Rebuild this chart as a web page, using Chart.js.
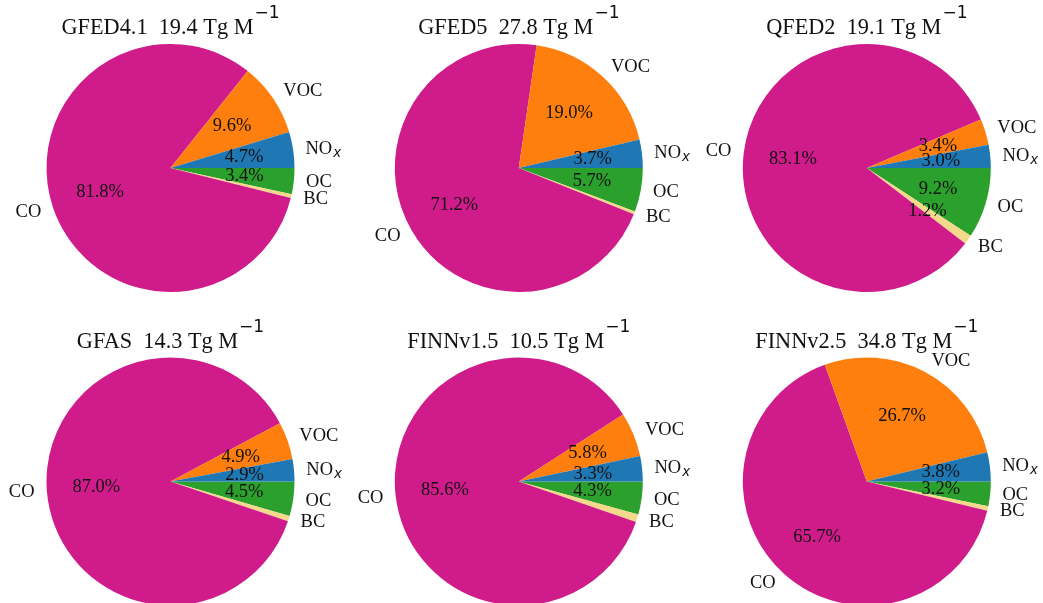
<!DOCTYPE html>
<html>
<head>
<meta charset="utf-8">
<script src="https://cdn.jsdelivr.net/npm/chart.js@4.4.0/dist/chart.umd.min.js"></script>
<style>
  html, body { margin: 0; padding: 0; background: #ffffff; }
  #wrap { position: relative; width: 1043px; height: 603px; overflow: hidden; }
  #wrap canvas { position: absolute; left: 0; top: 0; }
</style>
</head>
<body>
<div id="wrap"></div>
<script>
// Emission factor composition per fire inventory (share of total, %)
const species = ['CO', 'VOC', 'NOx', 'OC', 'BC'];
const inventories = ['GFED4.1', 'GFED5', 'QFED2', 'GFAS', 'FINNv1.5', 'FINNv2.5'];
const totals = [19.4, 27.8, 19.1, 14.3, 10.5, 34.8]; // Tg M^-1

// values ordered as `species`
const gfed41 = [81.8, 9.6, 4.7, 3.4, 0.5];
const gfed5  = [71.2, 19.0, 3.7, 5.7, 0.4];
const qfed2  = [83.1, 3.4, 3.0, 9.2, 1.2];
const gfas   = [87.0, 4.9, 2.9, 4.5, 0.7];
const finn15 = [85.6, 5.8, 3.3, 4.3, 1.0];
const finn25 = [65.7, 26.7, 3.8, 3.2, 0.6];
const shares = [gfed41, gfed5, qfed2, gfas, finn15, finn25];

const colors = { CO: '#d01c8b', VOC: '#ff7f0e', NOx: '#1f77b4', OC: '#2ca02c', BC: '#f5d98b' };

// wedges run clockwise from 3 o'clock
const wedgeOrder = ['OC', 'BC', 'CO', 'VOC', 'NOx'];

const W = 1043, H = 603;
const R = 124;
const centers = [
  [170.5, 168], [518.8, 168], [866.8, 168],
  [170.5, 481.5], [518.8, 481.5], [866.8, 481.5]
];

const SERIF = '"Liberation Serif", "Times New Roman", serif';
const LABEL_PX = 18.5;
const TITLE_PX = 22.3;
const SUP_PX = 17;

function drawNOx(ctx, x, y, align) {
  const main = 'NO';
  ctx.font = LABEL_PX + 'px ' + SERIF;
  const w1 = ctx.measureText(main).width;
  const subFont = 'italic ' + (LABEL_PX * 0.72).toFixed(1) + 'px "DejaVu Sans"';
  ctx.font = subFont;
  const w2 = ctx.measureText('x').width;
  const total = w1 + 1 + w2;
  const x0 = align === 'left' ? x : x - total;
  ctx.textAlign = 'left';
  ctx.textBaseline = 'alphabetic';
  const base = y + LABEL_PX * 0.33;
  ctx.font = LABEL_PX + 'px ' + SERIF;
  ctx.fillText(main, x0, base);
  ctx.font = subFont;
  ctx.fillText('x', x0 + w1 + 1, base + 3);
}

function drawTitle(ctx, cx, baseY, name, total) {
  const main = name + '  ' + total.toFixed(1) + ' Tg M';
  const sup = '\u22121';
  ctx.font = TITLE_PX + 'px ' + SERIF;
  const w1 = ctx.measureText(main).width;
  const supFont = SUP_PX + 'px "DejaVu Sans"';
  ctx.font = supFont;
  const w2 = ctx.measureText(sup).width;
  const x0 = cx - (w1 + 1 + w2) / 2;
  ctx.textAlign = 'left';
  ctx.textBaseline = 'alphabetic';
  ctx.fillStyle = '#111';
  ctx.font = TITLE_PX + 'px ' + SERIF;
  ctx.fillText(main, x0, baseY);
  ctx.font = supFont;
  ctx.fillText(sup, x0 + w1 + 1, baseY - 16);
}

const pieText = {
  id: 'pieText',
  afterDatasetsDraw(chart, args, opts) {
    const ctx = chart.ctx;
    const meta = chart.getDatasetMeta(0);
    const ds = chart.data.datasets[0];
    ctx.save();
    meta.data.forEach((arc, i) => {
      const p = arc.getProps(['x', 'y', 'startAngle', 'endAngle', 'outerRadius'], true);
      const mid = (p.startAngle + p.endAngle) / 2;
      const c = Math.cos(mid), s = Math.sin(mid);
      const lx = p.x + c * p.outerRadius * 1.1;
      const ly = p.y + s * p.outerRadius * 1.1;
      const align = c > 0 ? 'left' : 'right';
      const name = chart.data.labels[i];
      ctx.fillStyle = '#111';
      if (name === 'NOx') {
        drawNOx(ctx, lx, ly, align);
      } else {
        ctx.font = LABEL_PX + 'px ' + SERIF;
        ctx.textAlign = align;
        ctx.textBaseline = 'middle';
        ctx.fillText(name, lx, ly);
      }
      const v = ds.data[i];
      if (v > 1.0) {
        const px = p.x + c * p.outerRadius * 0.6;
        const py = p.y + s * p.outerRadius * 0.6;
        ctx.font = LABEL_PX + 'px ' + SERIF;
        ctx.textAlign = 'center';
        ctx.textBaseline = 'middle';
        ctx.fillText(v.toFixed(1) + '%', px, py);
      }
    });
    drawTitle(ctx, opts.cx, opts.titleY, opts.name, opts.total);
    ctx.restore();
  }
};

const wrap = document.getElementById('wrap');
inventories.forEach((inv, k) => {
  const cv = document.createElement('canvas');
  cv.width = W; cv.height = H;
  cv.style.width = W + 'px'; cv.style.height = H + 'px';
  wrap.appendChild(cv);
  const [cx, cy] = centers[k];
  const half = 60;
  const vals = wedgeOrder.map(sp => shares[k][species.indexOf(sp)]);
  new Chart(cv.getContext('2d'), {
    type: 'pie',
    data: {
      labels: wedgeOrder,
      datasets: [{
        data: vals,
        backgroundColor: wedgeOrder.map(sp => colors[sp]),
        borderWidth: 0,
        hoverOffset: 0
      }]
    },
    options: {
      responsive: false,
      animation: false,
      devicePixelRatio: 1,
      rotation: 90,
      radius: R,
      layout: { padding: { left: cx - half, right: W - cx - half, top: cy - half, bottom: H - cy - half } },
      events: [],
      plugins: {
        legend: { display: false },
        tooltip: { enabled: false },
        title: { display: false },
        pieText: { cx: cx, titleY: k < 3 ? 34.3 : 347.8, name: inv, total: totals[k] }
      }
    },
    plugins: [pieText]
  });
});
</script>
</body>
</html>
